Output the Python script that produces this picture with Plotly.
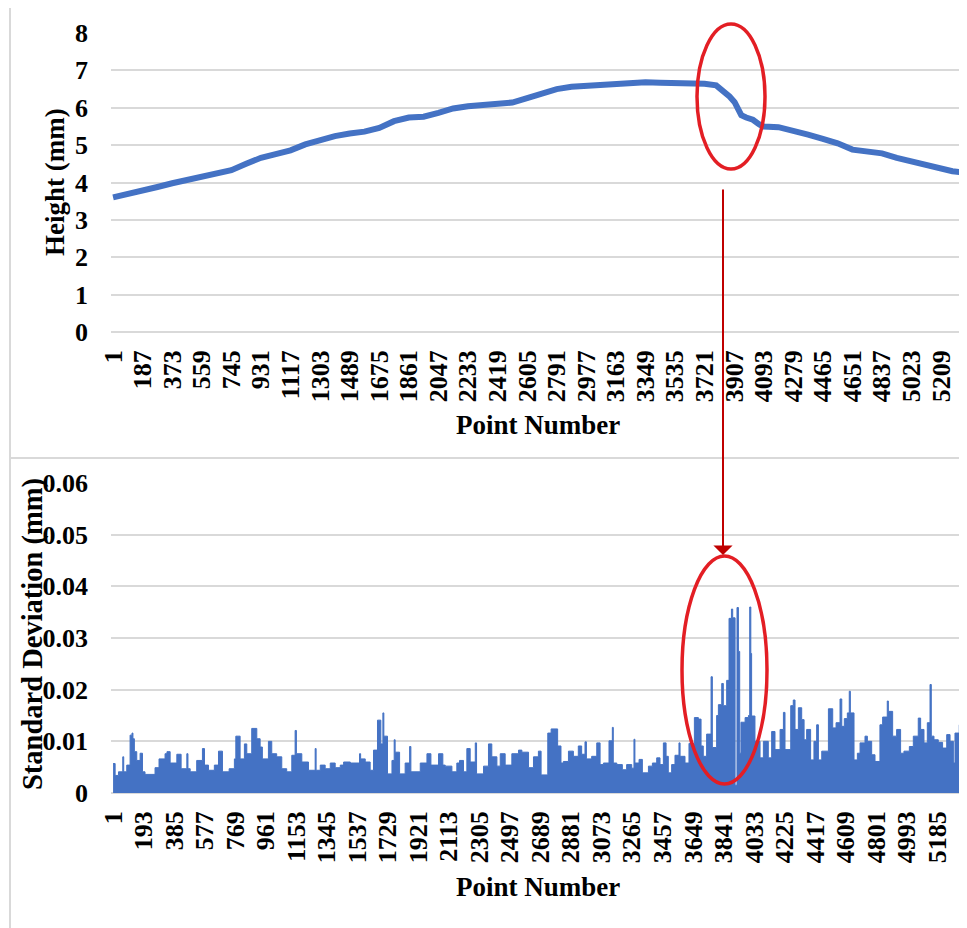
import plotly.graph_objects as go

# top chart: height profile (point number, height in mm)
height_pt = [1, 93, 187, 280, 373, 466, 559, 652, 745, 838, 931, 1024, 1117, 1210,
             1303, 1396, 1489, 1582, 1675, 1768, 1861, 1954, 2047, 2140, 2233, 2326,
             2419, 2512, 2605, 2698, 2791, 2884, 2977, 3070, 3163, 3256, 3349, 3442,
             3535, 3628, 3721, 3794, 3840, 3878, 3910, 3931, 3952, 3983, 4025, 4067,
             4093, 4186, 4279, 4372, 4465, 4558, 4651, 4744, 4837, 4930, 5023, 5116,
             5209, 5280, 5350]
height_mm = [3.60, 3.68, 3.78, 3.88, 3.98, 4.07, 4.15, 4.25, 4.33, 4.50, 4.66, 4.76, 4.86, 5.02,
             5.14, 5.24, 5.31, 5.36, 5.46, 5.64, 5.74, 5.76, 5.86, 5.98, 6.04, 6.07,
             6.10, 6.14, 6.26, 6.40, 6.50, 6.56, 6.59, 6.60, 6.62, 6.66, 6.68, 6.67,
             6.66, 6.66, 6.64, 6.60, 6.45, 6.30, 6.15, 6.00, 5.80, 5.74, 5.68, 5.55,
             5.50, 5.48, 5.40, 5.28, 5.17, 5.05, 4.88, 4.84, 4.78, 4.66, 4.56, 4.48,
             4.37, 4.30, 4.27]

# bottom chart: standard deviation, step profile (start point, value in mm)
sd_pt = [1, 14, 35, 62, 68, 87, 108, 120, 126, 135, 150, 171, 186, 202, 265, 290, 328, 340,
         360, 402, 429, 465, 472, 486, 527, 563, 576, 601, 638, 664, 689, 731, 764, 773,
         800, 827, 842, 873, 905, 926, 940, 978, 999, 1030, 1062, 1093, 1125, 1146, 1154,
         1188, 1230, 1272, 1278,
         1304, 1335, 1367, 1398, 1430, 1451, 1493, 1551, 1558, 1587, 1618, 1639, 1664, 1685,
         1698, 1704, 1727, 1755, 1769, 1775, 1803, 1838, 1866, 1874, 1933, 1975, 2000, 2048,
         2075, 2090, 2132, 2163, 2180, 2205, 2226, 2247, 2279, 2287, 2331, 2362, 2383, 2415,
         2436, 2467, 2509, 2551, 2572, 2614, 2645,
         2676, 2693, 2735, 2756, 2797, 2818, 2833, 2865, 2896, 2927, 2948, 2969, 2978, 3011,
         3043, 3064, 3085, 3120, 3141, 3147, 3169, 3204, 3231, 3263, 3277, 3283, 3309, 3330,
         3368, 3393, 3420, 3441, 3462, 3479, 3493, 3514, 3535, 3560, 3567, 3598, 3623, 3657,
         3682, 3699, 3713, 3734, 3762, 3770, 3797, 3808, 3829, 3839, 3860, 3875, 3890, 3898,
         3913, 3925, 3934, 3942, 3950, 3976, 3997, 4005, 4012, 4017,
         4038, 4070, 4091, 4122, 4143, 4164, 4196, 4217, 4227, 4263, 4279, 4290, 4311, 4332,
         4347, 4363, 4388, 4409, 4426, 4437, 4458, 4500, 4527, 4548, 4573, 4584, 4600, 4619,
         4631, 4638, 4661, 4682, 4699, 4730, 4745, 4772, 4793, 4824, 4841, 4870, 4877, 4904,
         4929, 4954, 4975, 5009, 5034, 5065, 5080, 5101, 5122, 5139, 5147, 5164, 5191, 5218,
         5244, 5265, 5286, 5296, 5323, 5350]
sd_mm = [.0057, .0034, .0041, .0070, .0041, .0054, .0112, .0116, .0105, .0080, .0063, .0077, .0041,
         .0036, .0049, .0066, .0076, .0080, .0058, .0075, .0047, .0076, .0047, .0041, .0063, .0086,
         .0054, .0044, .0054, .0081, .0041, .0047, .0066, .0110, .0066, .0095, .0076, .0125, .0105,
         .0089, .0066, .0100, .0076, .0070, .0047, .0041, .0073, .0121, .0076, .0060, .0044, .0086,
         .0044,
         .0054, .0047, .0058, .0049, .0054, .0060, .0058, .0076, .0066, .0060, .0044, .0083, .0141,
         .0095, .0155, .0110, .0037, .0063, .0103, .0079, .0037, .0058, .0090, .0041, .0058, .0076,
         .0054, .0076, .0054, .0052, .0041, .0058, .0063, .0041, .0086, .0060, .0097, .0037, .0052,
         .0095, .0070, .0052, .0076, .0054, .0076, .0083, .0079, .0049, .0070,
         .0081, .0035, .0116, .0124, .0091, .0058, .0061, .0081, .0071, .0091, .0075, .0099, .0066,
         .0071, .0097, .0055, .0058, .0101, .0127, .0058, .0055, .0045, .0055, .0048, .0104, .0058,
         .0065, .0039, .0052, .0058, .0068, .0055, .0097, .0071, .0039, .0055, .0073, .0097, .0071,
         .0058, .0096, .0146, .0143, .0091, .0071, .0114, .0225, .0088, .0150, .0171, .0212, .0169,
         .0218, .0338, .0356, .0339, .0015, .0359, .0274, .0077, .0137, .0146, .0150, .0360, .0270,
         .0149,
         .0100, .0068, .0100, .0068, .0119, .0084, .0123, .0156, .0084, .0169, .0180, .0123, .0165,
         .0142, .0103, .0123, .0064, .0100, .0132, .0064, .0081, .0163, .0126, .0136, .0182, .0129,
         .0144, .0155, .0197, .0155, .0064, .0077, .0097, .0110, .0100, .0074, .0061, .0132, .0147,
         .0178, .0158, .0110, .0123, .0077, .0081, .0090, .0110, .0145, .0123, .0097, .0136, .0210,
         .0110, .0103, .0098, .0087, .0113, .0100, .0058, .0116, .0132, .0132]

# category tick labels as Excel printed them
top_ticks = [1, 187, 373, 559, 745, 931, 1117, 1303, 1489, 1675, 1861, 2047, 2233, 2419, 2605,
             2791, 2977, 3163, 3349, 3535, 3721, 3907, 4093, 4279, 4465, 4651, 4837, 5023, 5209]
bottom_ticks = [1, 193, 385, 577, 769, 961, 1153, 1345, 1537, 1729, 1921, 2113, 2305, 2497, 2689,
                2881, 3073, 3265, 3457, 3649, 3841, 4033, 4225, 4417, 4609, 4801, 4993, 5185]

# the page body has an 8px margin, so the figure is 8px smaller and positions shift by 8
OFF = 8
W, H = 967 - OFF, 928 - OFF
BLUE = "#4472c4"
GRID = "#d9d9d9"
FONT = "Liberation Serif"


def px(x):
    return (x - OFF) / W


def py(y):
    return 1 - (y - OFF) / H


fig = go.Figure()
fig.add_trace(go.Scatter(x=height_pt, y=height_mm, mode="lines",
                         line=dict(color=BLUE, width=6), xaxis="x", yaxis="y"))
fig.add_trace(go.Scatter(x=sd_pt, y=sd_mm, mode="lines", line_shape="hv",
                         fill="tozeroy", fillcolor=BLUE,
                         line=dict(color=BLUE, width=1), xaxis="x2", yaxis="y2"))

tick_font = dict(family=FONT, size=26, color="black", weight="bold")
xrange = [-12, 5359]

common_x = dict(range=xrange, domain=[px(111), px(965)], showgrid=False, zeroline=False,
                showline=False, tickangle=-90, tickfont=tick_font, ticklabelstandoff=12,
                automargin=False)
common_y = dict(showgrid=True, gridcolor=GRID, gridwidth=1.5, zeroline=True,
                zerolinecolor=GRID, zerolinewidth=1.5, showline=False,
                tickfont=tick_font, ticklabelstandoff=22, automargin=False)

fig.update_layout(
    width=W, height=H,
    margin=dict(l=0, r=0, t=0, b=0),
    paper_bgcolor="white", plot_bgcolor="white",
    showlegend=False,
    font=dict(family=FONT, color="black"),
    xaxis=dict(common_x, anchor="y", tickvals=top_ticks,
               ticktext=[str(t) for t in top_ticks]),
    yaxis=dict(common_y, anchor="x", domain=[py(332), py(33)], range=[0, 8], dtick=1),
    xaxis2=dict(common_x, anchor="y2", tickvals=bottom_ticks,
                ticktext=[str(t) for t in bottom_ticks]),
    yaxis2=dict(common_y, anchor="x2", domain=[py(793), py(483)], range=[0, 0.06],
                dtick=0.01),
)

titles = [("Height (mm)", 55, 182, -90, 27), ("Point Number", 538, 425, 0, 27),
          ("Standard Deviation (mm)", 33, 634, -90, 28.5), ("Point Number", 538, 887, 0, 27)]
for txt, tx, ty, ang, size in titles:
    fig.add_annotation(text=txt, x=px(tx), y=py(ty), xref="paper", yref="paper",
                       xanchor="center", yanchor="middle", textangle=ang, showarrow=False,
                       font=dict(family=FONT, size=size, color="black", weight="bold"))

# chart frames
fig.add_shape(type="line", x0=px(10), x1=px(10), y0=py(6), y1=py(928), xref="paper",
              yref="paper", line=dict(color=GRID, width=2))
fig.add_shape(type="line", x0=px(10), x1=px(967), y0=py(458), y1=py(458), xref="paper",
              yref="paper", line=dict(color=GRID, width=2))

# red highlight ellipses and arrow
RED = "#e31e24"
fig.add_shape(type="circle", x0=px(697), x1=px(765), y0=py(169), y1=py(24), xref="paper",
              yref="paper", line=dict(color=RED, width=3.5))
fig.add_shape(type="circle", x0=px(682), x1=px(767), y0=py(784), y1=py(556), xref="paper",
              yref="paper", line=dict(color=RED, width=3.5))
fig.add_annotation(x=px(723), y=py(555), xref="paper", yref="paper", ax=0, ay=-367,
                   axref="pixel", ayref="pixel", showarrow=True, arrowhead=1, arrowsize=1.6,
                   arrowwidth=2, arrowcolor="#c00000", text="")

fig.write_html("out.html")
